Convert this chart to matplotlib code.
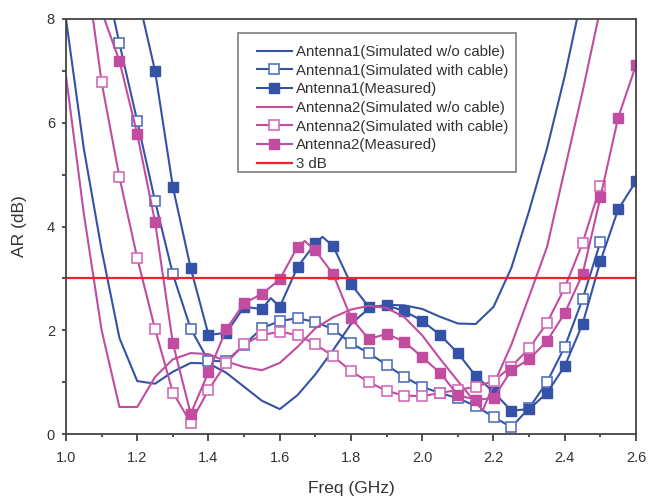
import numpy as np
import matplotlib
matplotlib.use("Agg")
import matplotlib.pyplot as plt
from matplotlib.patches import Rectangle

plt.rcParams["font.family"] = ["Liberation Sans", "DejaVu Sans"]

# Antenna1 simulated without cable (line only)
a1_wo_x = [1.00, 1.05, 1.10, 1.15, 1.20, 1.25, 1.30, 1.35, 1.40, 1.45, 1.50, 1.55, 1.60,
           1.65, 1.70, 1.75, 1.80, 1.85, 1.90, 1.95, 2.00, 2.05, 2.10, 2.15, 2.20, 2.25,
           2.30, 2.35, 2.40, 2.45]
a1_wo_y = [8.0, 5.5, 3.55, 1.85, 1.02, 0.97, 1.20, 1.37, 1.36, 1.18, 0.91, 0.64, 0.48,
           0.75, 1.15, 1.62, 2.12, 2.42, 2.49, 2.48, 2.41, 2.26, 2.13, 2.12, 2.45, 3.20,
           4.30, 5.50, 6.90, 8.50]

# Antenna1 simulated with cable (open squares)
a1_cab_x = [1.10, 1.15, 1.20, 1.25, 1.30, 1.35, 1.40, 1.45, 1.50, 1.55, 1.60, 1.65, 1.70,
            1.75, 1.80, 1.85, 1.90, 1.95, 2.00, 2.05, 2.10, 2.15, 2.20, 2.25, 2.30, 2.35,
            2.40, 2.45, 2.50]
a1_cab_y = [9.1, 7.53, 6.03, 4.49, 3.08, 2.03, 1.41, 1.40, 1.72, 2.04, 2.18, 2.23, 2.16,
            2.02, 1.75, 1.56, 1.33, 1.10, 0.91, 0.79, 0.69, 0.54, 0.33, 0.13, 0.50, 1.00,
            1.68, 2.60, 3.70]

# Antenna1 measured (filled squares)
a1_mea_x = [1.20, 1.25, 1.30, 1.35, 1.40, 1.45, 1.50, 1.55, 1.575, 1.60, 1.65, 1.70, 1.72,
            1.75, 1.80, 1.85, 1.90, 1.95, 2.00, 2.05, 2.10, 2.15, 2.20, 2.25, 2.30, 2.35,
            2.40, 2.45, 2.50, 2.55, 2.60]
a1_mea_y = [8.5, 7.0, 4.76, 3.20, 1.91, 1.95, 2.45, 2.41, 2.62, 2.45, 3.22, 3.68, 3.80,
            3.62, 2.89, 2.45, 2.48, 2.37, 2.18, 1.91, 1.56, 1.12, 0.81, 0.45, 0.48, 0.79,
            1.31, 2.12, 3.33, 4.33, 4.87]

# Antenna2 simulated without cable (line only)
a2_wo_x = [1.00, 1.05, 1.10, 1.15, 1.20, 1.25, 1.30, 1.35, 1.40, 1.45, 1.50, 1.55, 1.60,
           1.65, 1.70, 1.75, 1.80, 1.85, 1.90, 1.95, 2.00, 2.05, 2.10, 2.15, 2.17, 2.20,
           2.25, 2.30, 2.35, 2.40, 2.45, 2.50]
a2_wo_y = [6.9, 4.25, 2.0, 0.52, 0.52, 1.10, 1.44, 1.56, 1.54, 1.40, 1.29, 1.23, 1.37,
           1.68, 2.04, 2.25, 2.40, 2.47, 2.43, 2.25, 1.90, 1.45, 1.02, 0.60, 0.46, 0.95,
           1.72, 2.65, 3.60, 5.10, 6.60, 8.20]

# Antenna2 simulated with cable (open squares)
a2_cab_x = [1.05, 1.10, 1.15, 1.20, 1.25, 1.30, 1.35, 1.40, 1.45, 1.50, 1.55, 1.60, 1.65,
            1.70, 1.75, 1.80, 1.85, 1.90, 1.95, 2.00, 2.05, 2.10, 2.15, 2.20, 2.25, 2.30,
            2.35, 2.40, 2.45, 2.50]
a2_cab_y = [9.3, 6.78, 4.95, 3.39, 2.02, 0.80, 0.22, 0.85, 1.37, 1.73, 1.91, 1.97, 1.91,
            1.73, 1.50, 1.21, 1.00, 0.83, 0.74, 0.73, 0.79, 0.85, 0.91, 1.02, 1.30, 1.65,
            2.14, 2.82, 3.68, 4.78]

# Antenna2 measured (filled squares)
a2_mea_x = [1.10, 1.15, 1.20, 1.25, 1.30, 1.35, 1.40, 1.45, 1.50, 1.55, 1.60, 1.65, 1.67,
            1.70, 1.75, 1.80, 1.85, 1.90, 1.95, 2.00, 2.05, 2.10, 2.15, 2.20, 2.25, 2.30,
            2.35, 2.40, 2.45, 2.50, 2.55, 2.60]
a2_mea_y = [8.15, 7.19, 5.78, 4.09, 1.75, 0.39, 1.19, 2.02, 2.52, 2.70, 2.98, 3.61, 3.72,
            3.54, 3.08, 2.24, 1.83, 1.93, 1.78, 1.48, 1.18, 0.75, 0.66, 0.69, 1.23, 1.44,
            1.79, 2.33, 3.08, 4.56, 6.10, 7.11]

labels = ["Antenna1(Simulated w/o cable)", "Antenna1(Simulated with cable)",
          "Antenna1(Measured)", "Antenna2(Simulated w/o cable)",
          "Antenna2(Simulated with cable)", "Antenna2(Measured)", "3 dB"]

blue = "#3553a6"
pink = "#c24c9f"
red = "#e8242c"


def on_grid(xs):
    # markers only on the 0.05 GHz steps
    return [abs(x * 20 - round(x * 20)) < 1e-6 for x in xs]


fig = plt.figure(figsize=(6.48, 5), dpi=100)
ax = fig.add_axes([66 / 648, 1 - 434 / 500, 570 / 648, 415 / 500])

lw = 1.5
ms = 6.5
ax.plot(a1_wo_x, a1_wo_y, color=blue, lw=lw, label=labels[0])
ax.plot(a1_cab_x, a1_cab_y, color=blue, lw=lw, marker="s", ms=ms, mfc="white",
        mec="#5472c0", mew=1.2, markevery=on_grid(a1_cab_x), label=labels[1])
ax.plot(a1_mea_x, a1_mea_y, color=blue, lw=lw, marker="s", ms=ms, mfc=blue, mec=blue,
        markevery=on_grid(a1_mea_x), label=labels[2])
ax.plot(a2_wo_x, a2_wo_y, color=pink, lw=lw, label=labels[3])
ax.plot(a2_cab_x, a2_cab_y, color=pink, lw=lw, marker="s", ms=ms, mfc="white",
        mec="#d36cb8", mew=1.2, markevery=on_grid(a2_cab_x), label=labels[4])
ax.plot(a2_mea_x, a2_mea_y, color=pink, lw=lw, marker="s", ms=ms, mfc=pink, mec=pink,
        markevery=on_grid(a2_mea_x), label=labels[5])
ax.axhline(3, color=red, lw=1.6, label=labels[6])

ax.set_xlim(1.0, 2.6)
ax.set_ylim(0, 8)
ax.set_xticks(np.arange(1.0, 2.61, 0.2))
ax.set_xticks(np.arange(1.1, 2.6, 0.2), minor=True)
ax.set_yticks([0, 2, 4, 6, 8])
ax.set_yticks([1, 3, 5, 7], minor=True)
ax.xaxis.set_major_formatter(matplotlib.ticker.FormatStrFormatter("%.1f"))

txt = "#333333"
ax.tick_params(axis="both", which="both", direction="out", colors="#333333",
               labelsize=10.5, labelcolor=txt, width=1.2)
ax.tick_params(axis="x", which="major", length=5, pad=7)
ax.tick_params(axis="x", which="minor", length=2.5)
ax.tick_params(axis="y", which="both", length=3, pad=5)
for s in ax.spines.values():
    s.set_color("#444444")
    s.set_linewidth(1.3)

ax.set_xlabel("Freq (GHz)", fontsize=12.5, color=txt, labelpad=12)
ax.set_ylabel("AR (dB)", fontsize=12.5, color=txt, labelpad=14)

# legend box drawn separately so the entries can sit inset like the original
box = Rectangle(((238 - 66) / 570, 1 - (172 - 19) / 415), (516 - 238) / 570, (172 - 33) / 415,
                transform=ax.transAxes, facecolor="white", edgecolor="#888888",
                lw=1.3, zorder=4)
ax.add_patch(box)
leg = ax.legend(loc="upper left", bbox_to_anchor=((257 - 66) / 570, 1 - (45 - 19) / 415),
                fontsize=10.8, frameon=False, borderpad=0, labelspacing=0.31,
                handlelength=2.3, handletextpad=0.3, borderaxespad=0)
leg.set_zorder(5)
for t in leg.get_texts():
    t.set_color(txt)

fig.savefig("out.png", dpi=100)
